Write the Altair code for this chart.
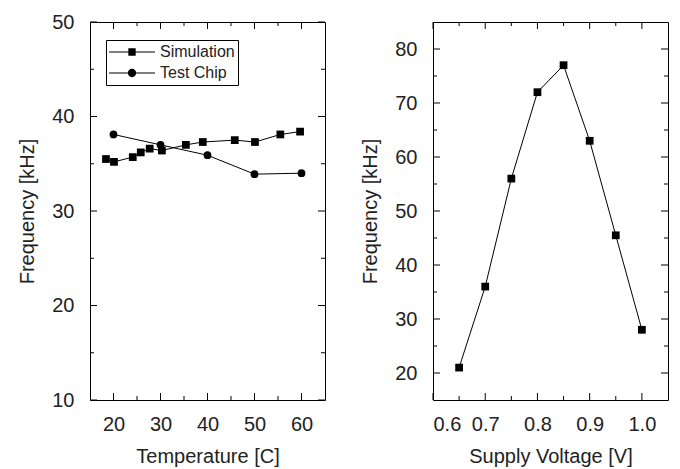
import altair as alt
import pandas as pd

# ---------------- data ----------------
series = ["Simulation", "Test Chip"]
sim_temp = [18.4, 20.1, 24.1, 25.8, 27.7, 30.3, 35.4, 39.0, 45.8, 50.1, 55.5, 59.7]
sim_freq = [35.5, 35.2, 35.7, 36.2, 36.6, 36.4, 37.0, 37.3, 37.5, 37.3, 38.1, 38.4]
chip_temp = [20, 30, 40, 50, 60]
chip_freq = [38.1, 37.0, 35.9, 33.9, 34.0]
volt = [0.65, 0.70, 0.75, 0.80, 0.85, 0.90, 0.95, 1.00]
volt_freq = [21.0, 36.0, 56.0, 72.0, 77.0, 63.0, 45.5, 28.0]

temp_major = [20, 30, 40, 50, 60]
temp_minor = [25, 35, 45, 55]
lfreq_major = [10, 20, 30, 40, 50]
lfreq_minor = [15, 25, 35, 45]
volt_major = [0.6, 0.7, 0.8, 0.9, 1.0]
volt_minor = [0.65, 0.75, 0.85, 0.95]
rfreq_major = [20, 30, 40, 50, 60, 70, 80]
rfreq_minor = [25, 35, 45, 55, 65, 75]

FONT = "Liberation Sans"
INK = "#222222"
W, H = 235, 378
MAJ, MIN = 7, 4
LEG_SIZE = 2116

df_left = pd.concat([
    pd.DataFrame({"x": sim_temp, "y": sim_freq, "s": series[0]}),
    pd.DataFrame({"x": chip_temp, "y": chip_freq, "s": series[1]}),
])
df_right = pd.DataFrame({"x": volt, "y": volt_freq})

# legend glyphs (fill only): thin bar - marker - thin bar
bar_l = "M-1,-0.024H-0.1V0.024H-1Z"
bar_r = "M0.1,-0.024H1V0.024H0.1Z"
sq_path = bar_l + bar_r + "M-0.16,-0.16H0.16V0.16H-0.16Z"
ci_path = bar_l + bar_r + "M0.18,0A0.18,0.18,0,1,1,-0.18,0A0.18,0.18,0,1,1,0.18,0Z"

legend = alt.Legend(
    title=None, orient="none", legendX=16, legendY=18,
    strokeColor="black", fillColor="white", padding=3,
    symbolSize=LEG_SIZE, clipHeight=18, rowPadding=3, labelOffset=5,
    labelFont=FONT, labelFontSize=16, labelColor=INK,
    symbolFillColor="black", symbolStrokeWidth=0, symbolOpacity=1,
)


def panel(df, xdom, ydom, xmaj, xmin, ymaj, ymin, xtitle, ytitle, xfmt, with_legend):
    xs = alt.Scale(domain=xdom, nice=False, zero=False)
    ys = alt.Scale(domain=ydom, nice=False, zero=False)
    xax = alt.Axis(values=xmaj, format=xfmt, ticks=False,
                   labelPadding=14, titlePadding=12, title=xtitle)
    yax = alt.Axis(values=ymaj, format="d", ticks=False,
                   labelPadding=16, titlePadding=14, title=ytitle)

    def X(field):
        return alt.X(field, scale=xs, axis=xax)

    def Y(field):
        return alt.Y(field, scale=ys, axis=yax)

    def tick_layers(vals, channel, length):
        data = pd.DataFrame({"v": vals})
        if channel == "x":
            base = alt.Chart(data).mark_tick(color="black", orient="vertical", thickness=1,
                                             size=length, opacity=1)
            return [base.encode(x=X("v:Q"), y=alt.value(H - length / 2)),
                    base.encode(x=X("v:Q"), y=alt.value(length / 2))]
        base = alt.Chart(data).mark_tick(color="black", orient="horizontal", thickness=1,
                                         size=length, opacity=1)
        return [base.encode(y=Y("v:Q"), x=alt.value(length / 2)),
                base.encode(y=Y("v:Q"), x=alt.value(W - length / 2))]

    line_enc = dict(x=X("x:Q"), y=Y("y:Q"))
    if with_legend:
        line_enc["detail"] = "s:N"
    line = alt.Chart(df).mark_line(color="black", strokeWidth=1).encode(**line_enc)

    pts_enc = dict(x=X("x:Q"), y=Y("y:Q"))
    if with_legend:
        pts_enc["shape"] = alt.Shape("s:N", scale=alt.Scale(domain=series, range=["square", "circle"]),
                                     legend=None)
        pts = alt.Chart(df).mark_point(filled=True, color="black", size=60, opacity=1).encode(**pts_enc)
    else:
        pts = alt.Chart(df).mark_point(filled=True, color="black", size=60, opacity=1,
                                       shape="square").encode(**pts_enc)

    layers = [line, pts]
    layers += tick_layers(xmaj, "x", MAJ) + tick_layers(xmin, "x", MIN)
    layers += tick_layers(ymaj, "y", MAJ) + tick_layers(ymin, "y", MIN)
    if with_legend:
        leg = alt.Chart(df).transform_filter("false").mark_point(
            filled=True, color="black", size=LEG_SIZE
        ).encode(
            x=X("x:Q"),
            y=Y("y:Q"),
            shape=alt.Shape("s:N", scale=alt.Scale(domain=series, range=[sq_path, ci_path]),
                            legend=legend),
        )
        layers.append(leg)
    ch = alt.layer(*layers)
    if with_legend:
        ch = ch.resolve_scale(shape="independent")
    return ch.properties(width=W, height=H)


left = panel(df_left, [15, 65], [10, 50], temp_major, temp_minor, lfreq_major, lfreq_minor,
             "Temperature [C]", "Frequency [kHz]", "d", True)
right = panel(df_right, [0.6, 1.05], [15, 85], volt_major, volt_minor, rfreq_major, rfreq_minor,
              "Supply Voltage [V]", "Frequency [kHz]", ".1f", False)

chart = alt.hconcat(left, right, spacing=34).properties(
    padding={"left": 9, "top": 3, "right": 0, "bottom": 0}
).configure_axis(
    labelFont=FONT, titleFont=FONT, labelFontSize=20, titleFontSize=20,
    titleFontWeight="normal", labelColor=INK, titleColor=INK,
    domain=False, grid=False,
).configure_view(stroke="black", strokeWidth=1)

chart.save("out.html", embed_options={"renderer": "svg", "actions": False})
